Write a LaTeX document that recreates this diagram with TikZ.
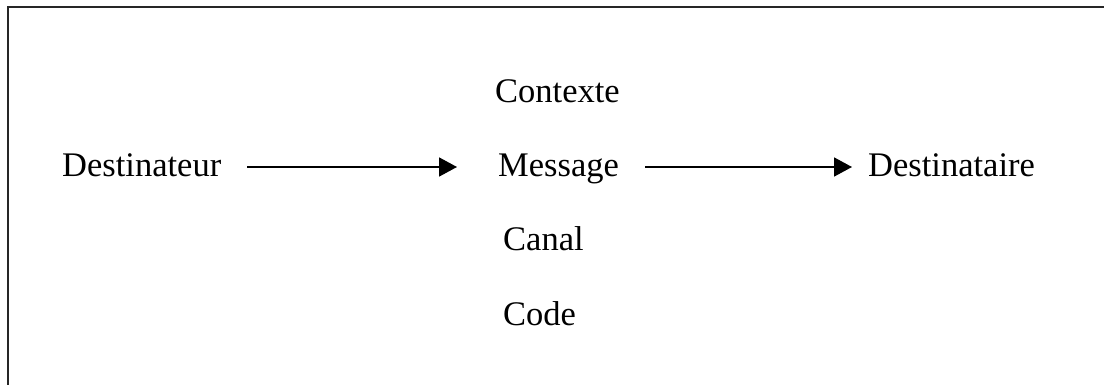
\documentclass[tikz,border=0pt]{standalone}
\usepackage{fontspec}
\setmainfont{Liberation Serif}
\usetikzlibrary{arrows.meta}
\begin{document}
\begin{tikzpicture}[x=1pt,y=-1pt,
  label text/.style={inner sep=0pt, anchor=base west,
    font=\fontsize{34.5}{40}\selectfont},
  flow/.style={line width=1.8pt, -{Triangle[length=18pt,width=19pt]}}]
  % page area
  \useasboundingbox (0,0) rectangle (1104,385);
  % frame (open on the right and at the bottom)
  \begin{scope}
    \clip (0,0) rectangle (1104,385);
    \draw[line width=2pt, black!85] (8,400) -- (8,7) -- (1120,7);
  \end{scope}
  % labels
  \node[label text] (src)  at (62,177)  {Destinateur};
  \node[label text] (ctx)  at (495,103) {Contexte};
  \node[label text] (msg)  at (498,177) {Message};
  \node[label text] (chan) at (503,251) {Canal};
  \node[label text] (code) at (503,325) {Code};
  \node[label text] (dst)  at (868,177) {Destinataire};
  % arrows, drawn a little above the text baseline
  \draw[flow, shorten <=26pt, shorten >=41pt]
    ([yshift=10pt]src.base east) -- ([yshift=10pt]msg.base west);
  \draw[flow, shorten <=26pt, shorten >=16pt]
    ([yshift=10pt]msg.base east) -- ([yshift=10pt]dst.base west);
\end{tikzpicture}
\end{document}
